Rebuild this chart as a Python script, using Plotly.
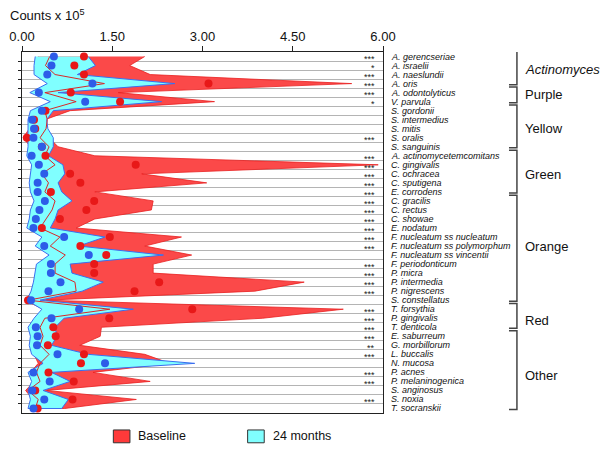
import plotly.graph_objects as go

species = ["A. gerencseriae", "A. israelii", "A. naeslundii", "A. oris", "A. odontolyticus",
           "V. parvula", "S. gordonii", "S. intermedius", "S. mitis", "S. oralis", "S. sanguinis",
           "A. actinomycetemcomitans", "C. gingivalis", "C. ochracea", "C. sputigena", "E. corrodens",
           "C. gracilis", "C. rectus", "C. showae", "E. nodatum", "F. nucleatum ss nucleatum",
           "F. nucleatum ss polymorphum", "F. nucleatum ss vincentii", "F. periodonticum", "P. micra",
           "P. intermedia", "P. nigrescens", "S. constellatus", "T. forsythia", "P. gingivalis",
           "T. denticola", "E. saburreum", "G. morbillorum", "L. buccalis", "N. mucosa", "P. acnes",
           "P. melaninogenica", "S. anginosus", "S. noxia", "T. socranskii"]

signif = ["***", "*", "***", "***", "***", "*", "", "", "", "***", "",
          "***", "***", "***", "***", "***", "***", "***", "***", "***", "***",
          "***", "", "***", "***", "***", "***", "", "***", "***",
          "***", "***", "**", "***", "", "***", "***", "", "***", ""]

# Baseline band (upper / lower) and mean
base_hi = [2.04, 1.79, 2.13, 5.48, 1.60, 3.20, 0.80, 0.38, 0.38, 0.45, 0.60,
           1.21, 5.92, 1.99, 3.07, 1.21, 2.18, 2.15, 1.21, 0.90, 2.65,
           2.04, 2.82, 2.18, 2.18, 4.69, 3.87, 0.40, 5.34, 4.00,
           1.32, 1.30, 0.96, 2.04, 2.46, 1.18, 2.13, 0.41, 1.90, 0.71]
base_lo = [0.27, 0.25, 0.25, 0.45, 0.18, 0.50, 0.18, 0.14, 0.12, 0.02, 0.14,
           0.12, 0.20, 0.18, 0.16, 0.18, 0.24, 0.18, 0.16, 0.12, 0.38,
           0.26, 0.50, 0.28, 0.26, 0.22, 0.18, 0.04, 0.36, 0.24,
           0.14, 0.18, 0.16, 0.20, 0.27, 0.14, 0.20, 0.06, 0.18, 0.12]
base_mean = [1.03, 0.87, 1.03, 3.10, 0.81, 1.63, 0.39, 0.20, 0.22, 0.08, 0.33,
             0.39, 1.89, 0.80, 0.97, 0.48, 1.20, 1.07, 0.63, 0.33, 1.46,
             0.97, 1.40, 1.20, 1.20, 2.28, 1.87, 0.10, 2.83, 1.45,
             0.52, 0.56, 0.43, 1.03, 0.98, 0.44, 0.86, 0.22, 0.84, 0.26]
base_line = [0.46, 0.39, 0.55, 1.37, 0.38, 0.90, 0.38, 0.42, 0.40, 0.30, 0.45,
             0.38, 0.55, 0.33, 0.44, 0.38, 0.55, 0.50, 0.40, 0.30, 0.63,
             0.47, 0.72, 0.55, 0.55, 0.88, 0.90, 0.10, 1.46, 0.38,
             0.30, 0.35, 0.30, 0.45, 0.30, 0.24, 0.30, 0.10, 0.27, 0.22]

# 24 months band and mean
m24_hi = [1.10, 1.22, 0.92, 2.54, 0.60, 2.32, 0.52, 0.41, 0.43, 0.52, 0.52,
          0.44, 0.68, 0.71, 0.60, 0.66, 0.83, 0.60, 0.55, 0.47, 1.38,
          0.94, 2.35, 0.80, 0.83, 1.35, 1.00, 0.30, 1.85, 0.70,
          0.55, 0.58, 0.49, 1.10, 2.87, 0.49, 0.80, 0.35, 0.77, 0.66]
m24_lo = [0.22, 0.20, 0.20, 0.42, 0.13, 0.47, 0.14, 0.10, 0.10, 0.10, 0.10,
          0.08, 0.16, 0.14, 0.12, 0.14, 0.20, 0.14, 0.12, 0.08, 0.33,
          0.22, 0.45, 0.24, 0.22, 0.19, 0.15, 0.08, 0.33, 0.20,
          0.10, 0.14, 0.12, 0.16, 0.35, 0.10, 0.16, 0.10, 0.14, 0.10]
m24_mean = [0.53, 0.49, 0.42, 1.17, 0.28, 1.05, 0.33, 0.17, 0.20, 0.19, 0.33,
            0.16, 0.28, 0.37, 0.26, 0.26, 0.38, 0.29, 0.23, 0.19, 0.70,
            0.37, 1.11, 0.48, 0.48, 0.64, 0.44, 0.15, 0.95, 0.49,
            0.23, 0.26, 0.25, 0.59, 1.38, 0.19, 0.46, 0.17, 0.37, 0.19]

groups = ["<i>Actinomyces</i>", "Purple", "Yellow", "Green", "Orange", "Red", "Other"]
group_first = [1, 5, 7, 12, 17, 29, 32]
group_last = [4, 6, 11, 16, 28, 31, 40]
group_label_row = [2.4, 5.2, 9.0, 14.1, 22.1, 30.3, 36.3]

tick_vals = [0, 1.5, 3.0, 4.5, 6.0]
tick_text = ["0.00", "1.50", "3.00", "4.50", "6.00"]

rows = list(range(1, len(species) + 1))
FONT = "Liberation Sans, Arial, Helvetica, sans-serif"

fig = go.Figure()
fig.add_trace(go.Scatter(x=base_hi + base_lo[::-1], y=rows + rows[::-1], fill="toself",
                         fillcolor="#fb4949", line=dict(color="#e82020", width=0.8),
                         mode="lines", hoverinfo="skip", showlegend=False))
fig.add_trace(go.Scatter(x=m24_hi + m24_lo[::-1], y=rows + rows[::-1], fill="toself",
                         fillcolor="#80ffff", line=dict(color="#3a6ef0", width=1),
                         mode="lines", hoverinfo="skip", showlegend=False))
fig.add_trace(go.Scatter(x=base_line, y=rows, mode="lines",
                         line=dict(color="#d82828", width=1), showlegend=False))
fig.add_trace(go.Scatter(x=base_mean, y=rows, mode="markers",
                         marker=dict(color="#e81818", size=8), showlegend=False))
fig.add_trace(go.Scatter(x=m24_mean, y=rows, mode="markers",
                         marker=dict(color="#2d5ce8", size=8), showlegend=False))

ann = []
for r, name, s in zip(rows, species, signif):
    ann.append(dict(x=1.017, y=r, xref="paper", yref="y", text="<i>" + name + "</i>",
                    showarrow=False, xanchor="left", yanchor="middle",
                    font=dict(size=9, family=FONT, color="#111")))
    if s:
        ann.append(dict(x=0.984, y=r + 0.3, xref="paper", yref="y", text=s,
                        showarrow=False, xanchor="right", yanchor="middle",
                        font=dict(size=9, family=FONT, color="#222")))

shapes = []
for g, a, b, ly in zip(groups, group_first, group_last, group_label_row):
    top = a - 0.62
    bot = b + 0.12
    shapes.append(dict(type="path", xref="paper", yref="y",
                       path=f"M 1.349,{top} L 1.371,{top} L 1.371,{bot} L 1.349,{bot}",
                       line=dict(color="#444", width=1.5)))
    ann.append(dict(x=1.388, y=ly, xref="paper", yref="y", text=g, showarrow=False,
                    xanchor="left", yanchor="middle", font=dict(size=13, family=FONT, color="#111")))

# Legend (drawn manually)
legend_items = [("Baseline", "#ff3a3a", 0.253), ("24 months", "#80ffff", 0.625)]
for label, col, x0 in legend_items:
    shapes.append(dict(type="rect", xref="paper", yref="paper", x0=x0, x1=x0 + 0.046,
                       y0=-0.0825, y1=-0.047, fillcolor=col, line=dict(color="#333", width=1)))
    ann.append(dict(x=x0 + 0.064, y=-0.064, xref="paper", yref="paper", text=label,
                    showarrow=False, xanchor="left", yanchor="middle",
                    font=dict(size=12.5, family=FONT, color="#111")))

ann.append(dict(x=-0.039, y=1.103, xref="paper", yref="paper", text="Counts x 10<sup>5</sup>",
                showarrow=False, xanchor="left", yanchor="middle",
                font=dict(size=13, family=FONT, color="#111")))

fig.update_layout(
    width=603, height=451,
    margin=dict(l=22, r=220, t=52, b=38, autoexpand=False),
    paper_bgcolor="white", plot_bgcolor="white",
    annotations=ann, shapes=shapes, showlegend=False,
    xaxis=dict(side="top", range=[0, 6], tickvals=tick_vals, ticktext=tick_text,
               ticks="outside", ticklen=5, tickcolor="#222", showline=True, automargin=False,
               linecolor="#222", linewidth=1, mirror=True, showgrid=False, zeroline=False,
               tickfont=dict(size=13, family=FONT, color="#111")),
    yaxis=dict(range=[40.5, 0.5], tickvals=[r + 0.5 for r in rows[:-1]], automargin=False,
               showticklabels=False, ticks="outside", ticklen=3, tickcolor="#222",
               showgrid=True, gridcolor="#b4b4b4", gridwidth=1, showline=True,
               linecolor="#222", linewidth=1, mirror=True, zeroline=False),
)

fig.write_html("out.html", config={"displayModeBar": False},
               post_script="document.body.style.margin='0';document.body.style.overflow='hidden';")
